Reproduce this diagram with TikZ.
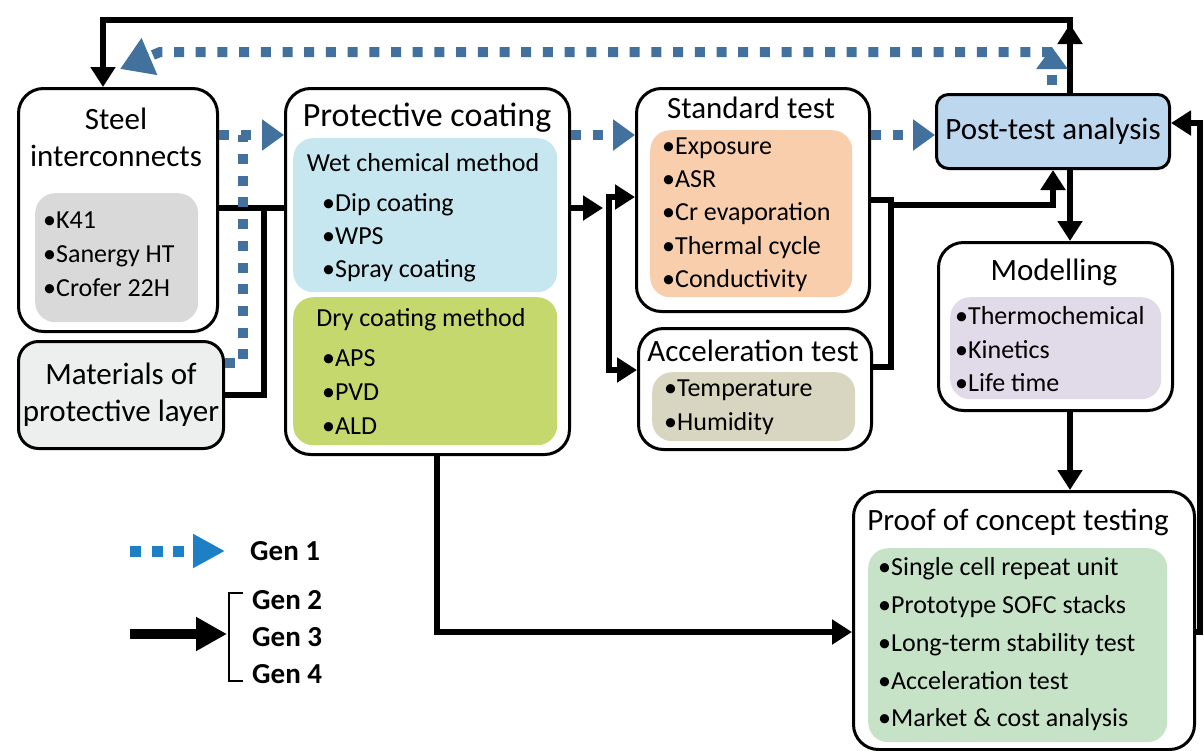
\documentclass[tikz,border=0pt]{standalone}
\usepackage{fontspec}
\setmainfont{Carlito}
\usetikzlibrary{arrows.meta,positioning}
\definecolor{gen1color}{RGB}{65,113,156}
\definecolor{legendblue}{RGB}{30,128,196}
\definecolor{steelfill}{RGB}{217,217,217}
\definecolor{matfill}{RGB}{237,239,239}
\definecolor{wetfill}{RGB}{198,231,239}
\definecolor{dryfill}{RGB}{196,216,110}
\definecolor{stdfill}{RGB}{248,206,172}
\definecolor{accfill}{RGB}{216,214,192}
\definecolor{postfill}{RGB}{189,215,238}
\definecolor{modfill}{RGB}{225,218,232}
\definecolor{prooffill}{RGB}{198,227,200}
\newcommand{\boxtitle}{\fontsize{31}{37}\selectfont}
\newcommand{\boxitems}{\fontsize{26}{34}\selectfont}
\newcommand{\genfont}{\bfseries\fontsize{29}{35}\selectfont}

\begin{document}
\begin{tikzpicture}[
    x=1pt, y=-1pt,
    outer/.style={draw, fill=white, line width=3pt, rounded corners=25pt, anchor=north west, inner sep=0pt},
    panel/.style={rounded corners=20pt, anchor=north west, inner sep=0pt},
    ttl/.style={font=\boxtitle, align=center, inner sep=0pt},
    items/.style={font=\boxitems, align=left, anchor=west, inner sep=0pt},
    link/.style={line width=6pt},
    arrow/.style={line width=6pt, -{Triangle[length=20pt,width=24pt]}},
    gen1/.style={gen1color, line width=10pt, dash pattern=on 10pt off 11.7pt},
    gen1arrow/.style={gen1, -{Triangle[length=22pt,width=30pt]}},
    legend1/.style={legendblue, line width=11pt, dash pattern=on 11pt off 10.6pt, -{Triangle[length=32pt,width=32pt]}},
    legend2/.style={line width=10pt, -{Triangle[length=31pt,width=32pt]}}
]
\useasboundingbox (0,0) rectangle (1204,750);

\node[outer, minimum width=199pt, minimum height=243pt] (steel) at (17,87) {};
\node[ttl] (steelTitle) at (116,137) {Steel\\interconnects};
\node[panel, fill=steelfill, minimum width=163pt, minimum height=129pt] (steelPanel) at (35,193) {};
\node[items] (steelItems) at (43,254) {•K41\\•Sanergy HT\\•Crofer 22H};

\node[outer, fill=matfill, rounded corners=20pt, minimum width=205pt, minimum height=107pt, font=\boxtitle, align=center] (mat) at (17,340) {Materials of\\protective layer};

\node[outer, minimum width=284pt, minimum height=366pt] (coat) at (284,87) {};
\node[ttl, font={\fontsize{34}{40}\selectfont}] (coatTitle) at (427,118) {Protective coating};
\node[panel, fill=wetfill, minimum width=264pt, minimum height=154pt] (wet) at (293,138) {};
\node[items, anchor=center] (wetTitle) at (423,163) {Wet chemical method};
\node[items, font={\fontsize{26}{33}\selectfont}] (wetItems) at (322,238) {•Dip coating\\•WPS\\•Spray coating};
\node[panel, fill=dryfill, minimum width=264pt, minimum height=148pt] (dry) at (293,297) {};
\node[items, anchor=center] (dryTitle) at (421,320) {Dry coating method};
\node[items] (dryItems) at (322,392) {•APS\\•PVD\\•ALD};

\node[outer, minimum width=233pt, minimum height=223pt] (std) at (635,87) {};
\node[ttl] (stdTitle) at (751,108) {Standard test};
\node[panel, fill=stdfill, minimum width=202pt, minimum height=167pt] (stdPanel) at (650,130) {};
\node[items, font={\fontsize{26}{33.25}\selectfont}] (stdItems) at (662,214.5) {•Exposure\\•ASR\\•Cr evaporation\\•Thermal cycle\\•Conductivity};

\node[outer, minimum width=233pt, minimum height=121pt] (acc) at (637,327) {};
\node[ttl] (accTitle) at (753,351) {Acceleration test};
\node[panel, fill=accfill, minimum width=203pt, minimum height=69pt] (accPanel) at (652,372) {};
\node[items] (accItems) at (664,407) {•Temperature\\•Humidity};

\node[outer, fill=postfill, rounded corners=12pt, minimum width=233pt, minimum height=74pt, font=\boxtitle] (post) at (935,93) {Post-test analysis};

\node[outer, minimum width=234pt, minimum height=168pt] (mod) at (937,241) {};
\node[ttl] (modTitle) at (1054,272) {Modelling};
\node[panel, fill=modfill, minimum width=211pt, minimum height=102pt] (modPanel) at (950,297) {};
\node[items, font={\fontsize{26}{33.5}\selectfont}] (modItems) at (955,349.5) {•Thermochemical\\•Kinetics\\•Life time};

\node[outer, minimum width=341pt, minimum height=258pt] (proof) at (852,490) {};
\node[ttl] (proofTitle) at (1018,522) {Proof of concept testing};
\node[panel, fill=prooffill, minimum width=299pt, minimum height=194pt] (proofPanel) at (868,548) {};
\node[items, font={\fontsize{26}{37.75}\selectfont}] (proofItems) at (878,644.5) {•Single cell repeat unit\\•Prototype SOFC stacks\\•Long-term stability test\\•Acceleration test\\•Market \& cost analysis};

\coordinate (topR) at (1070,20);
\coordinate (topL) at (103,20);
\coordinate (topTip) at (1070,24);
\draw[arrow] (topR |- post.north) -- (topR) -- (topL) -- (topL |- steel.north);
\draw[arrow] (topR |- post.north) -- (topTip);
\draw[arrow] (topR |- post.south) -- (topR |- mod.north);
\draw[arrow] (topR |- mod.south) -- (topR |- proof.north);

\coordinate (join) at (264,208);
\draw[link] (steel.east |- join) -- (coat.west |- join);
\draw[link] (mat.east) -| (join);

\coordinate (split) at (603,208);
\coordinate (splitT) at (609,197);
\coordinate (splitB) at (609,370);
\draw[arrow] (coat.east |- split) -- (split);
\draw[arrow] (splitB) -- (splitT) -- (splitT -| std.west);
\draw[arrow] (splitT) -- (splitB) -- (splitB -| acc.west);

\coordinate (testR) at (891,367);
\coordinate (testUp) at (891,205);
\draw[link] (std.east) -| (testR) -- (testR -| acc.east);
\draw[arrow] (testUp) -| (post.south);

\coordinate (down) at (437,632);
\draw[arrow] (down |- coat.south) -- (down) -- (down -| proof.west);
\coordinate (back) at (1200,123);
\draw[arrow] (proof.east |- down) -| (back) -- (back -| post.east);

\coordinate (blueR) at (1052,52);
\coordinate (blueUp) at (1052,47);
\coordinate (blueL) at (160,52);
\coordinate (blueTip) at (120,69);
\draw[gen1arrow, shorten <=8pt] (blueR |- post.north) -- (blueUp);
\draw[gen1, -{Triangle[length=32pt,width=38pt]}] (blueR) -- (blueL) -- (blueTip);

\coordinate (blueJ) at (243,135);
\coordinate (blueJb) at (243,363);
\draw[gen1arrow] (steel.east |- blueJ) -- (coat.west |- blueJ);
\draw[gen1] (mat.east |- blueJb) -- (blueJb) -- (blueJ);
\draw[gen1arrow] (coat.east |- blueJ) -- (std.west |- blueJ);
\draw[gen1arrow] (std.east |- blueJ) -- (post.west |- blueJ);

\node[font=\genfont, anchor=west, inner sep=0pt] (gen1Label) at (250,551) {Gen 1};
\node[font=\genfont, anchor=west, inner sep=0pt] (gen2Label) at (252,600) {Gen 2};
\node[font=\genfont, anchor=west, inner sep=0pt] (gen3Label) at (252,637) {Gen 3};
\node[font=\genfont, anchor=west, inner sep=0pt] (gen4Label) at (252,674) {Gen 4};
\coordinate (gen1Start) at (130,551);
\coordinate (gen2Start) at (130,634);
\coordinate (bracketMid) at (227,634);
\draw[legend1] (gen1Start) -- ([xshift=-25pt]gen1Label.west);
\draw[legend2] (gen2Start) -- (bracketMid);
\draw[line width=2pt] (243,593) -- (229,593) -- (229,681) -- (243,681);
\end{tikzpicture}
\end{document}
